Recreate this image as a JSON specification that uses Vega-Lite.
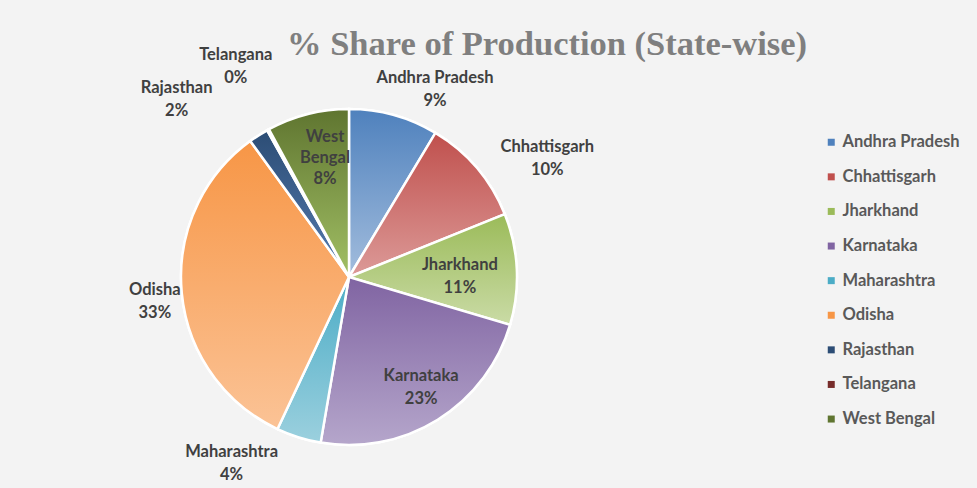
{
  "$schema": "https://vega.github.io/schema/vega-lite/v6.json",
  "width": 698,
  "height": 422,
  "autosize": {"type": "none"},
  "padding": {"left": 0, "top": 66, "right": 279, "bottom": 0},
  "background": "#F3F3F3",
  "config": {"view": {"stroke": null}},
  "title": {
    "text": "% Share of Production (State-wise)",
    "font": "Liberation Serif",
    "fontSize": 34.5,
    "fontWeight": "bold",
    "color": "#7F7F7F",
    "anchor": "middle",
    "dx": 198,
    "offset": -38
  },
  "data": {
    "values": [
      {"idx": 1, "state": "Andhra Pradesh", "pct": 8.6, "label": "Andhra Pradesh\n9%"},
      {"idx": 2, "state": "Chhattisgarh", "pct": 10.3, "label": "Chhattisgarh\n10%"},
      {"idx": 3, "state": "Jharkhand", "pct": 10.7, "label": "Jharkhand\n11%"},
      {"idx": 4, "state": "Karnataka", "pct": 23.1, "label": "Karnataka\n23%"},
      {"idx": 5, "state": "Maharashtra", "pct": 4.3, "label": "Maharashtra\n4%"},
      {"idx": 6, "state": "Odisha", "pct": 33.0, "label": "Odisha\n33%"},
      {"idx": 7, "state": "Rajasthan", "pct": 1.9, "label": "Rajasthan\n2%"},
      {"idx": 8, "state": "Telangana", "pct": 0.2, "label": "Telangana\n0%"},
      {"idx": 9, "state": "West Bengal", "pct": 7.9, "label": "West\nBengal\n8%"}
    ]
  },
  "encoding": {
    "theta": {"field": "pct", "type": "quantitative", "stack": true},
    "order": {"field": "idx", "type": "quantitative"}
  },
  "layer": [
    {
      "mark": {"type": "arc", "outerRadius": 168, "stroke": "white", "strokeWidth": 2.5},
      "encoding": {
        "color": {
          "field": "state",
          "type": "nominal",
          "scale": {
            "domain": ["Andhra Pradesh", "Chhattisgarh", "Jharkhand", "Karnataka", "Maharashtra", "Odisha", "Rajasthan", "Telangana", "West Bengal"],
            "range": ["#4F81BD", "#C0504D", "#9BBB59", "#8064A2", "#4BACC6", "#F79646", "#2C4D75", "#772C2A", "#5F7530"]
          },
          "legend": {
            "orient": "none",
            "legendX": 823,
            "legendY": 68,
            "title": null,
            "padding": 0,
            "symbolType": "square",
            "symbolSize": 49,
            "symbolStrokeWidth": 0,
            "labelFont": "Lato",
            "labelFontWeight": "bold",
            "labelFontSize": 16.5,
            "labelColor": "#595959",
            "rowPadding": 17.6,
            "labelOffset": 3
          }
        }
      }
    },
    {
      "mark": {"type": "arc", "outerRadius": 168, "stroke": "white", "strokeWidth": 2.5},
      "encoding": {
        "fill": {
          "condition": [
            {"test": "datum.state === 'Andhra Pradesh'", "value": {"gradient": "linear", "x1": 0, "y1": 0, "x2": 0, "y2": 1, "stops": [{"offset": 0, "color": "#4F81BD"}, {"offset": 1, "color": "#A3BDDD"}]}},
            {"test": "datum.state === 'Chhattisgarh'", "value": {"gradient": "linear", "x1": 0, "y1": 0, "x2": 0, "y2": 1, "stops": [{"offset": 0, "color": "#C0504D"}, {"offset": 1, "color": "#DC9A98"}]}},
            {"test": "datum.state === 'Jharkhand'", "value": {"gradient": "linear", "x1": 0, "y1": 0, "x2": 0, "y2": 1, "stops": [{"offset": 0, "color": "#9BBB59"}, {"offset": 1, "color": "#CADBA6"}]}},
            {"test": "datum.state === 'Karnataka'", "value": {"gradient": "linear", "x1": 0, "y1": 0, "x2": 0, "y2": 1, "stops": [{"offset": 0, "color": "#8064A2"}, {"offset": 1, "color": "#B5A6CB"}]}},
            {"test": "datum.state === 'Maharashtra'", "value": {"gradient": "linear", "x1": 0, "y1": 0, "x2": 0, "y2": 1, "stops": [{"offset": 0, "color": "#4BACC6"}, {"offset": 1, "color": "#9BD0DE"}]}},
            {"test": "datum.state === 'Odisha'", "value": {"gradient": "linear", "x1": 0, "y1": 0, "x2": 0, "y2": 1, "stops": [{"offset": 0, "color": "#F79646"}, {"offset": 1, "color": "#FBC396"}]}},
            {"test": "datum.state === 'Rajasthan'", "value": {"gradient": "linear", "x1": 0, "y1": 0, "x2": 0, "y2": 1, "stops": [{"offset": 0, "color": "#2C4D75"}, {"offset": 1, "color": "#557BB0"}]}},
            {"test": "datum.state === 'Telangana'", "value": {"gradient": "linear", "x1": 0, "y1": 0, "x2": 0, "y2": 1, "stops": [{"offset": 0, "color": "#772C2A"}, {"offset": 1, "color": "#B35552"}]}},
            {"test": "datum.state === 'West Bengal'", "value": {"gradient": "linear", "x1": 0, "y1": 0, "x2": 0, "y2": 1, "stops": [{"offset": 0, "color": "#5F7530"}, {"offset": 1, "color": "#A2C065"}]}}
          ],
          "value": "#999999"
        }
      }
    },
    {
      "mark": {"type": "text", "radius": 195, "dx": 34, "dy": -11, "font": "Lato", "fontWeight": "bold", "fontSize": 16.5, "color": "#404040", "lineBreak": "\n", "lineHeight": 23},
      "encoding": {"text": {"condition": {"test": "datum.state === 'Andhra Pradesh'", "field": "label"}, "value": ""}}
    },
    {
      "mark": {"type": "text", "radius": 220, "dx": 31, "dy": 13, "font": "Lato", "fontWeight": "bold", "fontSize": 16.5, "color": "#404040", "lineBreak": "\n", "lineHeight": 23},
      "encoding": {"text": {"condition": {"test": "datum.state === 'Chhattisgarh'", "field": "label"}, "value": ""}}
    },
    {
      "mark": {"type": "text", "radius": 110, "dx": 1, "dy": -7, "font": "Lato", "fontWeight": "bold", "fontSize": 16.5, "color": "#404040", "lineBreak": "\n", "lineHeight": 23},
      "encoding": {"text": {"condition": {"test": "datum.state === 'Jharkhand'", "field": "label"}, "value": ""}}
    },
    {
      "mark": {"type": "text", "radius": 131, "dx": 3, "dy": -12, "font": "Lato", "fontWeight": "bold", "fontSize": 16.5, "color": "#404040", "lineBreak": "\n", "lineHeight": 23},
      "encoding": {"text": {"condition": {"test": "datum.state === 'Karnataka'", "field": "label"}, "value": ""}}
    },
    {
      "mark": {"type": "text", "radius": 218, "dx": -52, "dy": -33, "font": "Lato", "fontWeight": "bold", "fontSize": 16.5, "color": "#404040", "lineBreak": "\n", "lineHeight": 23},
      "encoding": {"text": {"condition": {"test": "datum.state === 'Maharashtra'", "field": "label"}, "value": ""}}
    },
    {
      "mark": {"type": "text", "radius": 195, "dx": 0, "dy": -5, "font": "Lato", "fontWeight": "bold", "fontSize": 16.5, "color": "#404040", "lineBreak": "\n", "lineHeight": 23},
      "encoding": {"text": {"condition": {"test": "datum.state === 'Odisha'", "field": "label"}, "value": ""}}
    },
    {
      "mark": {"type": "text", "radius": 257, "dx": -34, "dy": 28, "font": "Lato", "fontWeight": "bold", "fontSize": 16.5, "color": "#404040", "lineBreak": "\n", "lineHeight": 23},
      "encoding": {"text": {"condition": {"test": "datum.state === 'Rajasthan'", "field": "label"}, "value": ""}}
    },
    {
      "mark": {"type": "text", "radius": 235, "dx": 0, "dy": -16, "font": "Lato", "fontWeight": "bold", "fontSize": 16.5, "color": "#404040", "lineBreak": "\n", "lineHeight": 23},
      "encoding": {"text": {"condition": {"test": "datum.state === 'Telangana'", "field": "label"}, "value": ""}}
    },
    {
      "mark": {"type": "text", "radius": 122, "dx": 6, "dy": -22, "font": "Lato", "fontWeight": "bold", "fontSize": 16.5, "color": "#404040", "lineBreak": "\n", "lineHeight": 21},
      "encoding": {"text": {"condition": {"test": "datum.state === 'West Bengal'", "field": "label"}, "value": ""}}
    }
  ]
}
